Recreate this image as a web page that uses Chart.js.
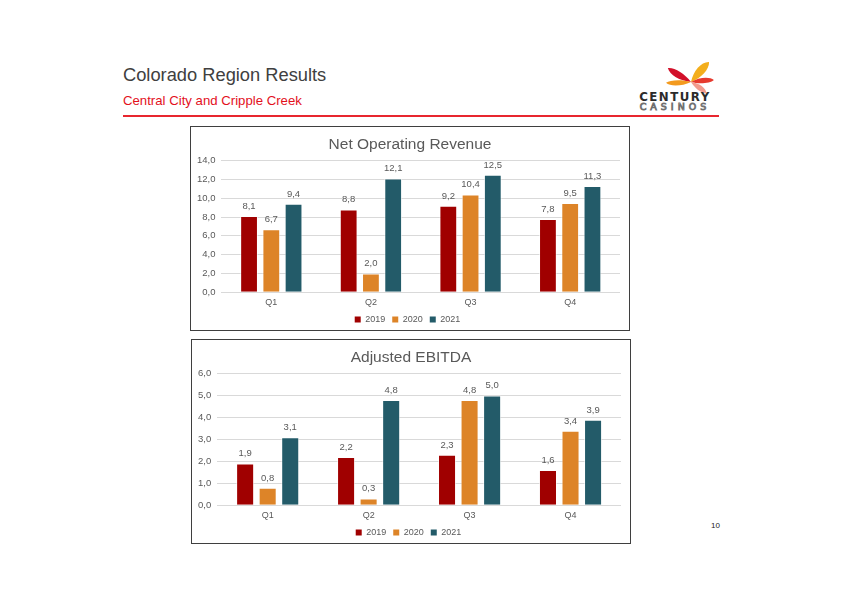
<!DOCTYPE html>
<html>
<head>
<meta charset="utf-8">
<script src="https://cdn.jsdelivr.net/npm/chart.js@4/dist/chart.umd.min.js"></script>
<style>
  body { margin: 0; width: 841px; height: 595px; background: #fff; position: relative; font-family: "Liberation Sans", Arial, sans-serif; overflow: hidden; }
  #title { position: absolute; left: 123px; top: 64px; font-size: 18.3px; color: #404040; }
  #subtitle { position: absolute; left: 123px; top: 93px; font-size: 13.2px; color: #e3101c; }
  #rule { position: absolute; left: 123px; top: 115px; width: 596px; height: 2px; background: #e8262f; }
  .box { position: absolute; width: 438px; height: 203px; border: 1px solid #3f3f3f; }
  #box1 { left: 190px; top: 126px; }
  #box2 { left: 191px; top: 339px; }
  #pageNum { position: absolute; left: 711px; top: 521px; font-size: 8px; color: #222; }
  #logo { position: absolute; left: 630px; top: 58px; }
</style>
</head>
<body>
<div id="title">Colorado Region Results</div>
<div id="subtitle">Central City and Cripple Creek</div>
<div id="rule"></div>
<svg id="logo" width="95" height="56" viewBox="0 0 95 56">
  <g transform="translate(61,24)">
    <path transform="rotate(-149)" d="M0,0 C10,-5 22,-5 27,0 C22,4 10,4 0,0Z" fill="#d2102a"/>
    <path transform="rotate(-48)" d="M0,0 C10,-6 22,-6 27,0 C22,5 10,5 0,0Z" fill="#f3ae1c"/>
    <path transform="rotate(-5)" d="M0,0 C8,-4 19,-4 23,0 C19,3 8,3 0,0Z" fill="#e63a2e"/>
    <path transform="rotate(36)" d="M0,0 C7,-4 16,-4 19,0 C16,3 7,3 0,0Z" fill="#f29a8c"/>
    <path transform="rotate(178)" d="M0,0 C9,-4 21,-4 25,0 C21,3 9,3 0,0Z" fill="#f39a1e"/>
  </g>
  <text x="45" y="43" text-anchor="middle" font-family="DejaVu Sans, Arial" font-weight="bold" font-size="11.8" fill="#2b2b2b" letter-spacing="1.5">CENTURY</text>
  <text x="45" y="52" text-anchor="middle" font-family="DejaVu Sans, Arial" font-size="9.5" fill="#fff" stroke="#6f6f6f" stroke-width="0.9" letter-spacing="4">CASINOS</text>
</svg>
<div class="box" id="box1"><canvas id="c1" width="438" height="203"></canvas></div>
<div class="box" id="box2"><canvas id="c2" width="438" height="203"></canvas></div>
<div id="pageNum">10</div>
<script>
const quarters = ["Q1", "Q2", "Q3", "Q4"];
const years = ["2019", "2020", "2021"];
const revenue2019 = [8.1, 8.8, 9.2, 7.8];
const revenue2020 = [6.7, 2.0, 10.4, 9.5];
const revenue2021 = [9.4, 12.1, 12.5, 11.3];
const ebitda2019 = [1.9, 2.2, 2.3, 1.6];
const ebitda2020 = [0.8, 0.3, 4.8, 3.4];
const ebitda2021 = [3.1, 4.8, 5.0, 3.9];
const colors = ["#a00000", "#dd8428", "#235b69"];

function fmt(v) {
  return v.toFixed(1).replace(".", ",");
}

// draws the value above each bar
const valueLabels = {
  id: "valueLabels",
  afterDatasetsDraw(chart) {
    const ctx = chart.ctx;
    ctx.save();
    ctx.font = "9.5px 'Liberation Sans', Arial";
    ctx.fillStyle = "#595959";
    ctx.textAlign = "center";
    ctx.textBaseline = "bottom";
    chart.data.datasets.forEach((ds, i) => {
      chart.getDatasetMeta(i).data.forEach((bar, j) => {
        ctx.fillText(fmt(ds.data[j]), bar.x, bar.y - 5);
      });
    });
    ctx.restore();
  }
};

function makeChart(id, title, series, max, step) {
  let ctx = document.getElementById(id).getContext("2d");
  return new Chart(ctx, {
    type: "bar",
    data: {
      labels: quarters,
      datasets: series.map((s, i) => ({
        label: years[i],
        data: s,
        backgroundColor: colors[i],
        borderColor: "rgba(255,255,255,0.6)",
        borderWidth: 1,
        categoryPercentage: 0.67,
        barPercentage: 0.8
      }))
    },
    options: {
      responsive: false,
      animation: false,
      layout: { padding: { left: 0, right: 0, top: 0, bottom: -4 } },
      plugins: {
        title: {
          display: true,
          text: title,
          color: "#595959",
          font: { size: 15.5, family: "'Liberation Sans', Arial", weight: "normal" },
          padding: { top: 8, bottom: 7 }
        },
        legend: {
          position: "bottom",
          labels: {
            boxWidth: 6,
            boxHeight: 6,
            padding: 2,
            color: "#595959",
            font: { size: 9, family: "'Liberation Sans', Arial" },
            generateLabels: (chart) => chart.data.datasets.map((ds, i) => ({
              text: ds.label + "  ",
              fillStyle: ds.backgroundColor,
              strokeStyle: ds.backgroundColor,
              lineWidth: 0,
              fontColor: "#595959",
              datasetIndex: i
            }))
          }
        },
        tooltip: { enabled: false }
      },
      scales: {
        x: {
          grid: { display: false, drawTicks: false },
          border: { display: false },
          ticks: { color: "#595959", font: { size: 9, family: "'Liberation Sans', Arial" }, padding: 5 }
        },
        y: {
          min: 0,
          max: max,
          border: { display: false },
          grid: { color: "#d9d9d9", drawTicks: false },
          ticks: {
            stepSize: step,
            padding: 6,
            color: "#595959",
            font: { size: 9.5, family: "'Liberation Sans', Arial" },
            callback: (v) => fmt(v)
          }
        },
        // empty right axis, only keeps a margin without moving the title
        yRight: {
          position: "right",
          grid: { display: false, drawTicks: false },
          border: { display: false },
          ticks: { display: false },
          afterFit: (axis) => { axis.width = 9; }
        }
      }
    },
    plugins: [valueLabels]
  });
}

makeChart("c1", "Net Operating Revenue", [revenue2019, revenue2020, revenue2021], 14, 2);
makeChart("c2", "Adjusted EBITDA", [ebitda2019, ebitda2020, ebitda2021], 6, 1);
</script>
</body>
</html>
